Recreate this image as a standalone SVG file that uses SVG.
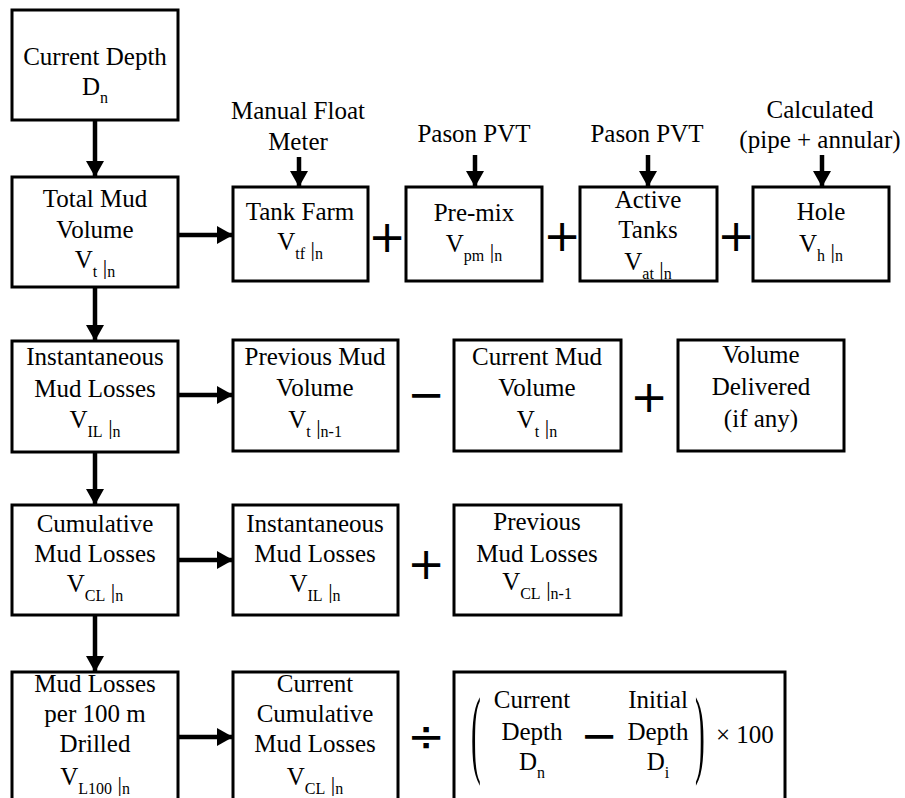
<svg xmlns="http://www.w3.org/2000/svg" width="905" height="798" viewBox="0 0 905 798">
<defs>
<marker id="ah" markerUnits="userSpaceOnUse" markerWidth="16" markerHeight="18" refX="16" refY="9" orient="auto">
<path d="M0,0 L16,9 L0,18 z" fill="#000"/>
</marker>
</defs>
<rect width="905" height="798" fill="#fff"/>

<g id="connectors" stroke="#000" stroke-width="4.5" fill="none">
<line marker-end="url(#ah)" x1="95" y1="120" x2="95" y2="177"/>
<line marker-end="url(#ah)" x1="95" y1="287" x2="95" y2="341"/>
<line marker-end="url(#ah)" x1="95" y1="452" x2="95" y2="505"/>
<line marker-end="url(#ah)" x1="95" y1="615" x2="95" y2="672"/>
<line marker-end="url(#ah)" x1="178" y1="235" x2="233" y2="235"/>
<line marker-end="url(#ah)" x1="178" y1="395" x2="233" y2="395"/>
<line marker-end="url(#ah)" x1="178" y1="560" x2="233" y2="560"/>
<line marker-end="url(#ah)" x1="178" y1="737" x2="233" y2="737"/>
<line marker-end="url(#ah)" x1="299" y1="157" x2="299" y2="187"/>
<line marker-end="url(#ah)" x1="475" y1="155" x2="475" y2="187"/>
<line marker-end="url(#ah)" x1="648" y1="155" x2="648" y2="187"/>
<line marker-end="url(#ah)" x1="822" y1="155" x2="822" y2="187"/>
</g>

<g id="labels">
<text font-family="Liberation Serif, Tinos, Times New Roman, serif" font-size="25" text-anchor="middle" x="298" y="119">Manual Float</text>
<text font-family="Liberation Serif, Tinos, Times New Roman, serif" font-size="25" text-anchor="middle" x="298" y="150">Meter</text>
<text font-family="Liberation Serif, Tinos, Times New Roman, serif" font-size="25" text-anchor="middle" x="474" y="142">Pason PVT</text>
<text font-family="Liberation Serif, Tinos, Times New Roman, serif" font-size="25" text-anchor="middle" x="647" y="142">Pason PVT</text>
<text font-family="Liberation Serif, Tinos, Times New Roman, serif" font-size="25" text-anchor="middle" x="820" y="118">Calculated</text>
<text font-family="Liberation Serif, Tinos, Times New Roman, serif" font-size="25" text-anchor="middle" x="820" y="148">(pipe + annular)</text>
</g>

<g id="operators">
<text font-family="DejaVu Sans, sans-serif" font-size="45" text-anchor="middle" x="387" y="252">+</text>
<text font-family="DejaVu Sans, sans-serif" font-size="45" text-anchor="middle" x="562" y="251">+</text>
<text font-family="DejaVu Sans, sans-serif" font-size="45" text-anchor="middle" x="736" y="251">+</text>
<text font-family="DejaVu Sans, sans-serif" font-size="45" text-anchor="middle" x="426" y="410">&#8722;</text>
<text font-family="DejaVu Sans, sans-serif" font-size="45" text-anchor="middle" x="649" y="412">+</text>
<text font-family="DejaVu Sans, sans-serif" font-size="45" text-anchor="middle" x="426" y="579">+</text>
<text font-family="DejaVu Sans, sans-serif" font-size="45" text-anchor="middle" x="426" y="751">&#247;</text>
</g>

<g id="n1">
<rect fill="none" stroke="#000" stroke-width="3" x="12" y="10" width="166" height="110"/>
<text font-family="Liberation Serif, Tinos, Times New Roman, serif" font-size="25" text-anchor="middle" x="95" y="65">Current Depth</text>
<text font-family="Liberation Serif, Tinos, Times New Roman, serif" font-size="25" text-anchor="middle" x="95" y="95">D<tspan font-size="16" dy="8">n</tspan></text>
</g>

<g id="n2">
<rect fill="none" stroke="#000" stroke-width="3" x="12" y="177" width="166" height="110"/>
<text font-family="Liberation Serif, Tinos, Times New Roman, serif" font-size="25" text-anchor="middle" x="95" y="207">Total Mud</text>
<text font-family="Liberation Serif, Tinos, Times New Roman, serif" font-size="25" text-anchor="middle" x="95" y="238">Volume</text>
<text font-family="Liberation Serif, Tinos, Times New Roman, serif" font-size="25" text-anchor="middle" x="95" y="268">V<tspan font-size="16" dy="9">t</tspan><tspan font-size="22" dy="-3"> |</tspan><tspan font-size="16" dy="3">n</tspan></text>
</g>

<g id="n3">
<rect fill="none" stroke="#000" stroke-width="3" x="233" y="187" width="135" height="94"/>
<text font-family="Liberation Serif, Tinos, Times New Roman, serif" font-size="25" text-anchor="middle" x="300" y="220">Tank Farm</text>
<text font-family="Liberation Serif, Tinos, Times New Roman, serif" font-size="25" text-anchor="middle" x="300" y="250">V<tspan font-size="16" dy="9">tf</tspan><tspan font-size="22" dy="-3"> |</tspan><tspan font-size="16" dy="3">n</tspan></text>
</g>

<g id="n4">
<rect fill="none" stroke="#000" stroke-width="3" x="406" y="187" width="136" height="94"/>
<text font-family="Liberation Serif, Tinos, Times New Roman, serif" font-size="25" text-anchor="middle" x="474" y="221">Pre-mix</text>
<text font-family="Liberation Serif, Tinos, Times New Roman, serif" font-size="25" text-anchor="middle" x="474" y="252">V<tspan font-size="16" dy="9">pm</tspan><tspan font-size="22" dy="-3"> |</tspan><tspan font-size="16" dy="3">n</tspan></text>
</g>

<g id="n5">
<rect fill="none" stroke="#000" stroke-width="3" x="580" y="187" width="137" height="94"/>
<text font-family="Liberation Serif, Tinos, Times New Roman, serif" font-size="25" text-anchor="middle" x="648" y="208">Active</text>
<text font-family="Liberation Serif, Tinos, Times New Roman, serif" font-size="25" text-anchor="middle" x="648" y="238">Tanks</text>
<text font-family="Liberation Serif, Tinos, Times New Roman, serif" font-size="25" text-anchor="middle" x="648" y="270">V<tspan font-size="16" dy="9">at</tspan><tspan font-size="22" dy="-3"> |</tspan><tspan font-size="16" dy="3">n</tspan></text>
</g>

<g id="n6">
<rect fill="none" stroke="#000" stroke-width="3" x="753" y="187" width="136" height="94"/>
<text font-family="Liberation Serif, Tinos, Times New Roman, serif" font-size="25" text-anchor="middle" x="821" y="220">Hole</text>
<text font-family="Liberation Serif, Tinos, Times New Roman, serif" font-size="25" text-anchor="middle" x="821" y="252">V<tspan font-size="16" dy="9">h</tspan><tspan font-size="22" dy="-3"> |</tspan><tspan font-size="16" dy="3">n</tspan></text>
</g>

<g id="n7">
<rect fill="none" stroke="#000" stroke-width="3" x="12" y="341" width="166" height="111"/>
<text font-family="Liberation Serif, Tinos, Times New Roman, serif" font-size="25" text-anchor="middle" x="95" y="365">Instantaneous</text>
<text font-family="Liberation Serif, Tinos, Times New Roman, serif" font-size="25" text-anchor="middle" x="95" y="397">Mud Losses</text>
<text font-family="Liberation Serif, Tinos, Times New Roman, serif" font-size="25" text-anchor="middle" x="95" y="428">V<tspan font-size="16" dy="9">IL</tspan><tspan font-size="22" dy="-3"> |</tspan><tspan font-size="16" dy="3">n</tspan></text>
</g>

<g id="n8">
<rect fill="none" stroke="#000" stroke-width="3" x="233" y="340" width="165" height="111"/>
<text font-family="Liberation Serif, Tinos, Times New Roman, serif" font-size="25" text-anchor="middle" x="315" y="365">Previous Mud</text>
<text font-family="Liberation Serif, Tinos, Times New Roman, serif" font-size="25" text-anchor="middle" x="315" y="396">Volume</text>
<text font-family="Liberation Serif, Tinos, Times New Roman, serif" font-size="25" text-anchor="middle" x="315" y="428">V<tspan font-size="16" dy="9">t</tspan><tspan font-size="22" dy="-3"> |</tspan><tspan font-size="16" dy="3">n-1</tspan></text>
</g>

<g id="n9">
<rect fill="none" stroke="#000" stroke-width="3" x="454" y="340" width="167" height="111"/>
<text font-family="Liberation Serif, Tinos, Times New Roman, serif" font-size="25" text-anchor="middle" x="537" y="365">Current Mud</text>
<text font-family="Liberation Serif, Tinos, Times New Roman, serif" font-size="25" text-anchor="middle" x="537" y="396">Volume</text>
<text font-family="Liberation Serif, Tinos, Times New Roman, serif" font-size="25" text-anchor="middle" x="537" y="428">V<tspan font-size="16" dy="9">t</tspan><tspan font-size="22" dy="-3"> |</tspan><tspan font-size="16" dy="3">n</tspan></text>
</g>

<g id="n10">
<rect fill="none" stroke="#000" stroke-width="3" x="678" y="340" width="166" height="111"/>
<text font-family="Liberation Serif, Tinos, Times New Roman, serif" font-size="25" text-anchor="middle" x="761" y="363">Volume</text>
<text font-family="Liberation Serif, Tinos, Times New Roman, serif" font-size="25" text-anchor="middle" x="761" y="395">Delivered</text>
<text font-family="Liberation Serif, Tinos, Times New Roman, serif" font-size="25" text-anchor="middle" x="761" y="427">(if any)</text>
</g>

<g id="n11">
<rect fill="none" stroke="#000" stroke-width="3" x="12" y="505" width="166" height="110"/>
<text font-family="Liberation Serif, Tinos, Times New Roman, serif" font-size="25" text-anchor="middle" x="95" y="532">Cumulative</text>
<text font-family="Liberation Serif, Tinos, Times New Roman, serif" font-size="25" text-anchor="middle" x="95" y="562">Mud Losses</text>
<text font-family="Liberation Serif, Tinos, Times New Roman, serif" font-size="25" text-anchor="middle" x="95" y="592">V<tspan font-size="16" dy="9">CL</tspan><tspan font-size="22" dy="-3"> |</tspan><tspan font-size="16" dy="3">n</tspan></text>
</g>

<g id="n12">
<rect fill="none" stroke="#000" stroke-width="3" x="233" y="505" width="165" height="110"/>
<text font-family="Liberation Serif, Tinos, Times New Roman, serif" font-size="25" text-anchor="middle" x="315" y="532">Instantaneous</text>
<text font-family="Liberation Serif, Tinos, Times New Roman, serif" font-size="25" text-anchor="middle" x="315" y="562">Mud Losses</text>
<text font-family="Liberation Serif, Tinos, Times New Roman, serif" font-size="25" text-anchor="middle" x="315" y="592">V<tspan font-size="16" dy="9">IL</tspan><tspan font-size="22" dy="-3"> |</tspan><tspan font-size="16" dy="3">n</tspan></text>
</g>

<g id="n13">
<rect fill="none" stroke="#000" stroke-width="3" x="454" y="505" width="167" height="110"/>
<text font-family="Liberation Serif, Tinos, Times New Roman, serif" font-size="25" text-anchor="middle" x="537" y="530">Previous</text>
<text font-family="Liberation Serif, Tinos, Times New Roman, serif" font-size="25" text-anchor="middle" x="537" y="562">Mud Losses</text>
<text font-family="Liberation Serif, Tinos, Times New Roman, serif" font-size="25" text-anchor="middle" x="537" y="590">V<tspan font-size="16" dy="9">CL</tspan><tspan font-size="22" dy="-3"> |</tspan><tspan font-size="16" dy="3">n-1</tspan></text>
</g>

<g id="n14">
<rect fill="none" stroke="#000" stroke-width="3" x="12" y="672" width="166" height="140"/>
<text font-family="Liberation Serif, Tinos, Times New Roman, serif" font-size="25" text-anchor="middle" x="95" y="692">Mud Losses</text>
<text font-family="Liberation Serif, Tinos, Times New Roman, serif" font-size="25" text-anchor="middle" x="95" y="722">per 100 m</text>
<text font-family="Liberation Serif, Tinos, Times New Roman, serif" font-size="25" text-anchor="middle" x="95" y="752">Drilled</text>
<text font-family="Liberation Serif, Tinos, Times New Roman, serif" font-size="25" text-anchor="middle" x="95" y="785">V<tspan font-size="16" dy="9">L100</tspan><tspan font-size="22" dy="-3"> |</tspan><tspan font-size="16" dy="3">n</tspan></text>
</g>

<g id="n15">
<rect fill="none" stroke="#000" stroke-width="3" x="233" y="672" width="165" height="140"/>
<text font-family="Liberation Serif, Tinos, Times New Roman, serif" font-size="25" text-anchor="middle" x="315" y="692">Current</text>
<text font-family="Liberation Serif, Tinos, Times New Roman, serif" font-size="25" text-anchor="middle" x="315" y="722">Cumulative</text>
<text font-family="Liberation Serif, Tinos, Times New Roman, serif" font-size="25" text-anchor="middle" x="315" y="752">Mud Losses</text>
<text font-family="Liberation Serif, Tinos, Times New Roman, serif" font-size="25" text-anchor="middle" x="315" y="785">V<tspan font-size="16" dy="9">CL</tspan><tspan font-size="22" dy="-3"> |</tspan><tspan font-size="16" dy="3">n</tspan></text>
</g>

<g id="n16">
<rect fill="none" stroke="#000" stroke-width="3" x="454" y="672" width="331" height="140"/>
<text font-family="Liberation Serif, Tinos, Times New Roman, serif" font-size="98" text-anchor="middle" transform="translate(476,765) scale(0.3,1)" x="0" y="0">(</text>
<text font-family="Liberation Serif, Tinos, Times New Roman, serif" font-size="98" text-anchor="middle" transform="translate(700,765) scale(0.3,1)" x="0" y="0">)</text>
<text font-family="Liberation Serif, Tinos, Times New Roman, serif" font-size="25" text-anchor="middle" x="532" y="708">Current</text>
<text font-family="Liberation Serif, Tinos, Times New Roman, serif" font-size="25" text-anchor="middle" x="532" y="740">Depth</text>
<text font-family="Liberation Serif, Tinos, Times New Roman, serif" font-size="25" text-anchor="middle" x="532" y="770">D<tspan font-size="16" dy="8">n</tspan></text>
<text font-family="DejaVu Sans, sans-serif" font-size="45" text-anchor="middle" x="599" y="751">&#8722;</text>
<text font-family="Liberation Serif, Tinos, Times New Roman, serif" font-size="25" text-anchor="middle" x="658" y="708">Initial</text>
<text font-family="Liberation Serif, Tinos, Times New Roman, serif" font-size="25" text-anchor="middle" x="658" y="740">Depth</text>
<text font-family="Liberation Serif, Tinos, Times New Roman, serif" font-size="25" text-anchor="middle" x="658" y="770">D<tspan font-size="16" dy="8">i</tspan></text>
<text font-family="Liberation Serif, Tinos, Times New Roman, serif" font-size="25" x="716" y="743">&#215; 100</text>
</g>
</svg>
